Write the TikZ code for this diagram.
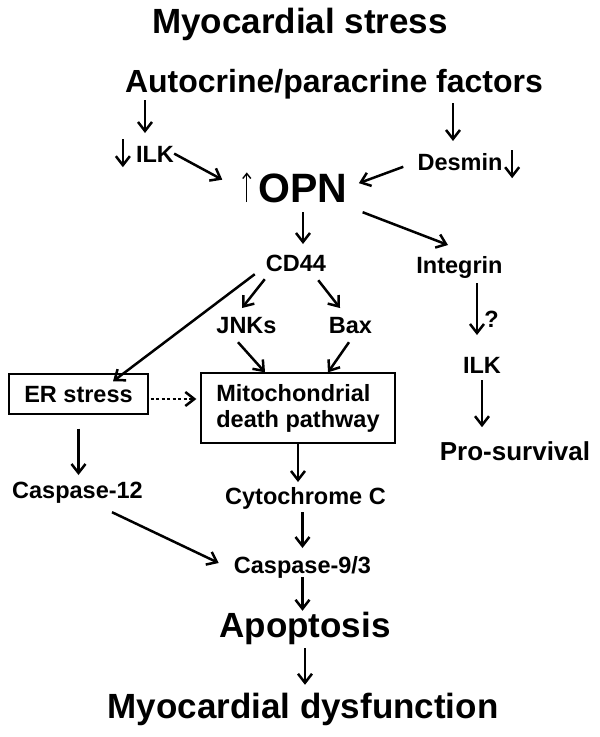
\documentclass[tikz,border=0pt]{standalone}
\usepackage{fontspec}
\setmainfont{Liberation Sans}
\usetikzlibrary{arrows.meta,calc}
\begin{document}
\begin{tikzpicture}[x=1pt,y=-1pt,
  every node/.style={inner sep=0pt,text depth=0pt,anchor=base},
  txt/.style={font=\fontsize{23.5pt}{26pt}\selectfont\bfseries,text height=16.8pt},
  bigtxt/.style={font=\fontsize{35pt}{40pt}\selectfont\bfseries,text height=25pt},
  box/.style={txt,draw,line width=1.3pt,anchor=center},
  arr/.style={line width=2.5pt,-{Straight Barb[length=9pt,width=14pt]}},
  uparr/.style={line width=1.4pt,-{Straight Barb[length=5pt,width=8pt]}}]
\useasboundingbox (0,0) rectangle (600,737);
\node[bigtxt] (stress) at (300,33) {Myocardial stress};
\node[font=\fontsize{32pt}{36pt}\selectfont\bfseries,text height=22.9pt] (factors) at (334,92) {Autocrine/paracrine factors};
\node[txt] (ilkL) at (155,162) {ILK};
\node[txt] (desmin) at (460,170) {Desmin};
\node[font=\fontsize{41pt}{46pt}\selectfont\bfseries,text height=29.4pt] (opn) at (303,202) {OPN};
\node[txt] (cd44) at (296,271) {CD44};
\node[txt] (integrin) at (459.5,273) {Integrin};
\node[txt] (jnk) at (246.5,333) {JNKs};
\node[txt] (bax) at (350.5,333) {Bax};
\node[txt] (ilkR) at (482,373) {ILK};
\node[font=\fontsize{26pt}{30pt}\selectfont\bfseries,text height=18.6pt] (survival) at (515,460) {Pro-survival};
\node[box,minimum width=139pt,minimum height=40pt] (erbox) at (78.5,394) {ER stress};
\node[box,minimum width=194pt,minimum height=70pt,align=left,text height={},text depth={}] (mito) at (298,408) {Mitochondrial\\death pathway};
\node[txt] (casp12) at (77.5,498) {Caspase-12};
\node[txt] (cyto) at (305.5,504) {Cytochrome C};
\node[txt] (casp93) at (302.5,573) {Caspase-9/3};
\node[bigtxt] (apop) at (305,637) {Apoptosis};
\node[bigtxt] (md) at (303,718) {Myocardial dysfunction};
\draw[arr,shorten <=8pt,shorten >=12pt] ($(factors.south -| ilkL.north)+(-10pt,0pt)$) -- ([xshift=-10pt]ilkL.north);
\draw[arr,shorten <=11pt,shorten >=12pt] ($(factors.south -| desmin.north)+(-7pt,0pt)$) -- ([xshift=-7pt]desmin.north);
\draw[arr] ([xshift=-13pt,yshift=6pt]ilkL.north west) -- ([xshift=-13pt,yshift=-5pt]ilkL.south west);
\draw[arr] ([xshift=9.5pt,yshift=3pt]desmin.north east) -- ([xshift=9.5pt,yshift=-8pt]desmin.south east);
\draw[uparr] ([xshift=-11.6pt]opn.south west) -- ([xshift=-11.6pt]opn.north west);
\draw[arr,shorten >=16pt] (ilkL.east) -- ([xshift=-22pt]opn.west);
\draw[arr,shorten <=15pt,shorten >=12pt] (desmin.west) -- (opn.east);
\draw[arr,shorten <=10pt,shorten >=10pt] (opn.south) -- (opn.south |- cd44.north);
\draw[arr] ([xshift=15pt,yshift=-10pt]opn.south east) -- ([xshift=-11.5pt,yshift=11pt]integrin.north);
\draw[arr] ([xshift=-1pt,yshift=-8pt]cd44.south west) -- ([xshift=-4.5pt,yshift=8pt]jnk.north);
\draw[arr] ([xshift=-8pt,yshift=-9pt]cd44.south east) -- ([xshift=-10.5pt,yshift=8pt]bax.north);
\draw[arr] ([xshift=-11pt,yshift=-3pt]cd44.south west) -- ([xshift=34.5pt,yshift=-8pt]erbox.north);
\draw[arr] ([xshift=-8.5pt,yshift=-9pt]jnk.south) -- ([xshift=-33pt]mito.north);
\draw[arr] ([xshift=-1.5pt,yshift=-9pt]bax.south) -- ([xshift=30pt]mito.north);
\draw[arr,shorten <=10pt,shorten >=21pt] ($(integrin.south -| ilkR.north)+(-5pt,0pt)$) -- node[txt,anchor=west,pos=0.55,xshift=6pt] (q) {?} ([xshift=-5pt]ilkR.north);
\draw[arr,shorten <=7pt,shorten >=14pt] (ilkR.south) -- (ilkR.south |- survival.north);
\draw[arr,dash pattern=on 3pt off 2.5pt,shorten <=2pt,shorten >=4pt] ([yshift=-5pt]erbox.east) -- ([yshift=9pt]mito.west);
\draw[arr,shorten <=14pt,shorten >=6pt] (erbox.south) -- (erbox.south |- casp12.north);
\draw[arr,shorten >=5pt] (mito.south) -- (mito.south |- cyto.north);
\draw[arr,shorten <=8pt,shorten >=8pt] (casp93.north |- cyto.south) -- (casp93.north);
\draw[arr] ([xshift=-31pt,yshift=-14pt]casp12.south east) -- ([xshift=-15pt,yshift=1.6pt]casp93.west);
\draw[arr,shorten <=4pt,shorten >=1pt] (casp93.south) -- (casp93.south |- apop.north);
\draw[arr,shorten <=11pt,shorten >=8pt] (apop.south) -- (apop.south |- md.north);
\end{tikzpicture}
\end{document}
